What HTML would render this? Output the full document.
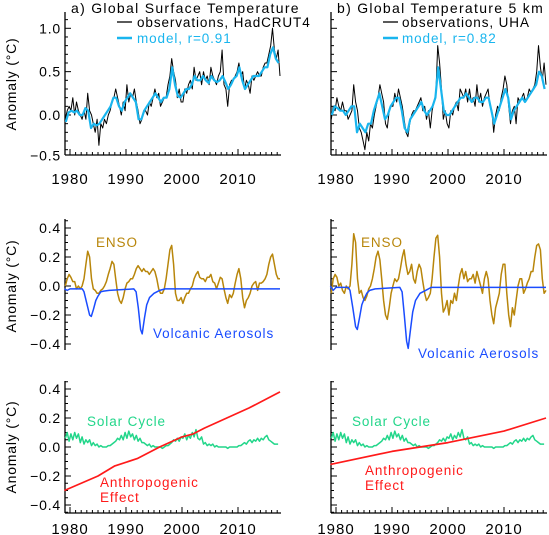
<!DOCTYPE html>
<html><head><meta charset="utf-8"><style>
html,body{margin:0;padding:0;background:#fff}
svg{display:block;font-family:"Liberation Sans","DejaVu Sans",sans-serif}
</style></head><body>
<svg id="fig" width="549" height="535" viewBox="0 0 549 535"></svg>
<script>
// ---------- data ----------
const hadcrutObs = [-0.05,0.05,0.1, 0.05,0.2,0.0, 0.15,0.05,0.0, -0.05,0.05,-0.05, 0.25,0.05,0.0, -0.1,-0.2,-0.05, -0.35,-0.1,-0.15, -0.05,-0.1,0.0, 0.05,0.15,0.2, 0.3,0.2,0.1, 0.0,0.15,0.05, 0.35,0.15,0.25, 0.2,0.3,0.15, 0.05,-0.1,-0.05, 0.05,0.05,0.0, 0.15,0.1,0.2, 0.3,0.2,0.25, 0.1,0.15,0.2, 0.2,0.35,0.45, 0.65,0.5,0.4, 0.2,0.3,0.15, 0.15,0.3,0.25, 0.35,0.4,0.3, 0.55,0.4,0.45, 0.5,0.35,0.5, 0.4,0.45,0.35, 0.55,0.45,0.4, 0.35,0.45,0.5, 0.75,0.35,0.3, 0.1,0.35,0.4, 0.4,0.45,0.5, 0.6,0.45,0.5, 0.3,0.4,0.35, 0.25,0.45,0.4, 0.45,0.5,0.45, 0.45,0.55,0.6, 0.6,0.7,0.8, 1.0,0.75,0.65, 0.75,0.45];
const hadcrutModel = [-0.08,0.03, 0.05,0.03, 0.05,0.0, 0.0,0.08, 0.05,-0.15, -0.1,-0.12, -0.1,-0.05, 0.0,0.05, 0.1,0.2, 0.2,0.1, 0.05,0.15, 0.2,0.25, 0.2,0.15, -0.05,-0.05, 0.05,0.1, 0.15,0.2, 0.25,0.2, 0.15,0.2, 0.2,0.3, 0.55,0.35, 0.22,0.2, 0.25,0.3, 0.3,0.35, 0.45,0.4, 0.4,0.45, 0.4,0.37, 0.45,0.4, 0.38,0.4, 0.45,0.38, 0.3,0.35, 0.42,0.45, 0.55,0.4, 0.3,0.35, 0.4,0.45, 0.45,0.45, 0.5,0.55, 0.55,0.7, 0.78,0.65, 0.6];
const uhaObs = [-0.05,0.1,0.05, 0.2,0.1,0.05, 0.15,0.05,0.05, -0.05,0.0,0.05, 0.35,0.15,0.05, -0.15,-0.2,-0.3, -0.4,-0.2,-0.3, -0.1,-0.15,0.0, 0.1,0.2,0.35, 0.25,0.15,-0.1, -0.15,0.05,0.1, 0.1,0.25,0.15, 0.3,0.2,0.1, -0.05,-0.2,-0.25, -0.1,0.0,0.05, 0.05,0.1,0.15, 0.2,0.05,0.1, -0.05,0.05,-0.15, 0.05,0.15,0.25, 0.8,0.6,0.3, -0.05,0.05,-0.1, -0.15,0.05,0.0, 0.1,0.15,0.05, 0.3,0.25,0.2, 0.3,0.15,0.3, 0.15,0.2,0.1, 0.35,0.15,0.25, 0.1,0.2,0.25, 0.3,0.1,0.05, -0.2,0.0,0.1, 0.05,0.2,0.3, 0.45,0.35,0.1, -0.1,0.05,0.1, -0.1,0.2,0.15, 0.2,0.25,0.15, 0.2,0.3,0.25, 0.3,0.35,0.5, 0.8,0.55,0.4, 0.6,0.35];
const uhaModel = [0.0,0.1, 0.08,0.05, 0.05,0.0, 0.05,0.1, 0.1,-0.2, -0.1,-0.15, -0.2,-0.1, -0.1,0.05, 0.15,0.25, 0.1,-0.05, 0.0,0.1, 0.15,0.2, 0.2,0.05, -0.15,-0.2, -0.05,0.0, 0.05,0.1, 0.15,0.05, 0.0,0.05, 0.1,0.2, 0.55,0.3, 0.05,0.0, 0.0,0.05, 0.1,0.15, 0.2,0.2, 0.25,0.2, 0.15,0.2, 0.2,0.15, 0.15,0.2, 0.2,0.05, -0.1,0.0, 0.1,0.2, 0.3,0.2, -0.05,0.05, 0.1,0.15, 0.2,0.15, 0.2,0.25, 0.3,0.35, 0.5,0.45, 0.3];
const ensoLeft = [0.0,0.05,0.08, 0.06,0.03,0.03, -0.02,0.0,-0.02, 0.0,0.05,0.15, 0.24,0.2,0.05, -0.02,-0.03,-0.05, -0.05,-0.03,-0.02, 0.0,0.03,0.08, 0.12,0.17,0.15, 0.05,-0.05,-0.1, -0.12,-0.08,-0.02, 0.02,0.03,0.05, 0.05,0.08,0.12, 0.14,0.12,0.1, 0.12,0.1,0.1, 0.08,0.1,0.12, 0.1,0.05,-0.02, -0.05,-0.05,-0.02, 0.05,0.15,0.25, 0.28,0.15,-0.05, -0.1,-0.1,-0.08, -0.12,-0.08,-0.05, -0.05,-0.02,0.0, 0.05,0.08,0.1, 0.06,0.05,0.05, 0.03,0.06,0.06, 0.08,0.03,0.02, -0.02,0.02,0.06, 0.05,-0.02,-0.08, -0.12,-0.06,-0.08, -0.05,0.02,0.08, 0.12,0.05,-0.08, -0.15,-0.1,-0.08, -0.05,0.0,0.02, 0.03,-0.03,0.02, 0.02,0.03,0.05, 0.08,0.15,0.2, 0.22,0.15,0.08, 0.05,0.05];
const ensoRight = [-0.05,0.05,0.08, 0.06,0.0,0.02, -0.03,-0.05,0.0, -0.02,0.0,0.15, 0.36,0.3,0.05, -0.05,-0.03,-0.08, -0.1,-0.07,-0.02, 0.0,0.05,0.12, 0.2,0.24,0.18, 0.05,-0.1,-0.2, -0.23,-0.15,-0.05, 0.0,0.05,0.03, 0.05,0.12,0.2, 0.25,0.15,0.08, 0.1,0.15,0.05, 0.02,0.1,0.15, 0.12,0.03,-0.05, -0.1,-0.08,-0.05, 0.05,0.2,0.33, 0.35,0.2,-0.05, -0.18,-0.15,-0.1, -0.2,-0.1,-0.12, -0.05,-0.1,0.0, 0.08,0.12,0.05, 0.1,0.03,0.05, 0.05,0.08,0.02, 0.1,0.05,0.0, -0.05,0.05,0.1, 0.05,-0.1,-0.2, -0.26,-0.15,-0.1, -0.05,0.08,0.15, 0.15,-0.05,-0.2, -0.28,-0.15,-0.2, -0.1,0.0,0.05, 0.05,-0.05,-0.02, 0.02,0.05,0.1, 0.1,0.2,0.28, 0.29,0.25,0.05, -0.05,-0.03];
const volcYears = [1979,1979.5,1980,1982.2,1982.5,1983.0,1983.5,1983.8,1984.2,1984.6,1985.0,1985.5,1986.0,1987,1991.4,1991.8,1992.2,1992.6,1992.9,1993.3,1993.7,1994.2,1995,1996,1997,2017.5];
const volcLeft = [-0.02,-0.03,-0.02,-0.02,-0.04,-0.12,-0.2,-0.21,-0.16,-0.1,-0.07,-0.04,-0.035,-0.03,-0.02,-0.04,-0.15,-0.3,-0.33,-0.22,-0.13,-0.08,-0.05,-0.03,-0.02,-0.02];
const volcRight = [0.0,-0.03,-0.01,-0.01,-0.03,-0.15,-0.28,-0.3,-0.22,-0.13,-0.09,-0.05,-0.03,-0.02,-0.01,-0.04,-0.2,-0.38,-0.43,-0.3,-0.18,-0.1,-0.05,-0.03,-0.01,-0.01];
const solar = [0.06,0.1,0.04, 0.09,0.05,0.1, 0.06,0.09,0.03, 0.07,0.02,0.05, 0.03,0.05,0.01, 0.03,0.01,0.02, 0.0,0.01,0.0, 0.0,0.0,0.01, 0.01,0.02,0.03, 0.04,0.06,0.05, 0.08,0.05,0.1, 0.06,0.11,0.07, 0.09,0.05,0.08, 0.04,0.06,0.03, 0.03,0.02,0.01, 0.02,0.0,0.01, 0.0,0.0,0.0, 0.0,-0.01,0.0, 0.01,0.01,0.02, 0.03,0.05,0.04, 0.06,0.04,0.07, 0.06,0.09,0.05, 0.08,0.06,0.1, 0.07,0.12,0.06, 0.05,0.07,0.02, 0.03,0.01,0.02, 0.01,0.02,0.0, 0.01,0.0,0.0, 0.0,0.0,0.0, -0.01,0.0,0.0, 0.0,0.0,0.0, 0.01,0.01,0.02, 0.03,0.02,0.04, 0.05,0.03,0.05, 0.04,0.06,0.04, 0.06,0.05,0.07, 0.08,0.05,0.04, 0.03,0.02,0.02, 0.02];
const anthroYearsL = [1979,1985,1988,1992,1996,2000,2002,2004,2008,2012,2017.5];
const anthroLeft = [-0.3,-0.2,-0.13,-0.08,0.0,0.07,0.09,0.13,0.2,0.27,0.38];
const anthroYearsR = [1979,1990,2000,2010,2017.5];
const anthroRight = [-0.12,-0.03,0.03,0.11,0.2];
const xTickYears = [1980,1990,2000,2010];

// ---------- drawing ----------
const NS="http://www.w3.org/2000/svg";
const svg=document.getElementById('fig');
function el(tag,attrs,parent){const e=document.createElementNS(NS,tag);for(const k in attrs)e.setAttribute(k,attrs[k]);(parent||svg).appendChild(e);return e;}
function txt(s,attrs,parent){const e=el('text',attrs,parent);e.textContent=s;return e;}

const panels={
  top:{y0:115,k:86.7,top:12,bot:155,major:[1.0,0.5,0.0,-0.5],minorStep:0.1,vmin:-0.45,vmax:1.18,xaxis:true,labY:184},
  mid:{y0:286,k:145,top:219,bot:350,major:[0.4,0.2,0.0,-0.2,-0.4],minorStep:0.05,vmin:-0.44,vmax:0.46,xaxis:false},
  bot:{y0:447,k:145,top:381,bot:513,major:[0.4,0.2,0.0,-0.2,-0.4],minorStep:0.05,vmin:-0.45,vmax:0.45,xaxis:true,labY:534}
};
function xs(ax,yr){return ax+5+(yr-1980)*5.6;}
function ys(p,v){return p.y0-p.k*v;}

function drawAxes(ax,p,name,showLabels){
  const g=el('g',{});
  
  
  el('line',{x1:ax,y1:p.top,x2:ax,y2:p.bot,stroke:'#000','stroke-width':1.3},g);
  for(let v=Math.ceil(p.vmin/p.minorStep)*p.minorStep;v<=p.vmax+1e-9;v+=p.minorStep){
    const isMaj=p.major.some(m=>Math.abs(m-v)<1e-6);
    const y=ys(p,v);
    el('line',{x1:ax,y1:y,x2:ax+(isMaj?6:3),y2:y,stroke:'#000','stroke-width':1},g);
  }
  if(showLabels){
    p.major.forEach(m=>{
      let y=ys(p,m)+5; if(m===-0.5) y-=3;
      const t=txt((m<0?'\u2212':'')+Math.abs(m).toFixed(1),{x:ax-4,y:y,'text-anchor':'end','font-size':14,'letter-spacing':0.8,fill:'#000'},g);
      
      
    });
  }
  if(p.xaxis){
    const xr=ax+216;
    el('line',{x1:ax,y1:p.bot,x2:xr,y2:p.bot,stroke:'#000','stroke-width':1.3},g);
    for(let yr=1980;yr<=2018;yr++){
      const x=xs(ax,yr);if(x>xr)break;
      el('line',{x1:x,y1:p.bot,x2:x,y2:p.bot-(yr%10===0?6:3),stroke:'#000','stroke-width':1},g);
    }
    xTickYears.forEach(yr=>{
      const t=txt(String(yr),{x:xs(ax,yr),y:p.labY,'text-anchor':'middle','font-size':15,'letter-spacing':1,fill:'#000'},g);
      
      
    });
  }
}
function seriesPath(ax,p,vals,start,per,color,w,name){
  const pts=vals.map((v,i)=>[xs(ax,start+i/per+0.5/per),ys(p,v)]);
  const e=el('polyline',{points:pts.map(q=>q[0].toFixed(1)+','+q[1].toFixed(1)).join(' '),fill:'none',stroke:color,'stroke-width':w,'stroke-linejoin':'round'});
  
  
}
function xyPath(ax,p,years,vals,color,w,name){
  const pts=vals.map((v,i)=>[xs(ax,years[i]),ys(p,v)]);
  const e=el('polyline',{points:pts.map(q=>q[0].toFixed(1)+','+q[1].toFixed(1)).join(' '),fill:'none',stroke:color,'stroke-width':w,'stroke-linejoin':'round'});
  
  
}
function label(s,x,y,color,name,size,ls){
  const t=txt(s,{x:x,y:y,'font-size':size||13.5,'letter-spacing':ls===undefined?0.9:ls,fill:color});
  
  
}

const CYAN='#19b5ee', GOLD='#b8860b', BLUE='#1a4cff', GREEN='#22d68a', RED='#ff1a1a';
[[65,'left'],[331,'right']].forEach(([ax,side])=>{
  const L=side==='left';
  drawAxes(ax,panels.top,side+'-top',L);
  drawAxes(ax,panels.mid,side+'-middle',L);
  drawAxes(ax,panels.bot,side+'-bottom',L);
  seriesPath(ax,panels.top,L?hadcrutObs:uhaObs,1979,3,'#000',1,side+'-observations-line');
  seriesPath(ax,panels.top,L?hadcrutModel:uhaModel,1979,2,CYAN,2.2,side+'-model-line');
  seriesPath(ax,panels.mid,L?ensoLeft:ensoRight,1979,3,GOLD,1.5,side+'-enso-line');
  xyPath(ax,panels.mid,volcYears,L?volcLeft:volcRight,BLUE,1.5,side+'-volcanic-line');
  seriesPath(ax,panels.bot,solar,1979,3,GREEN,1.5,side+'-solar-line');
  if(L) xyPath(ax,panels.bot,anthroYearsL,anthroLeft,RED,1.7,side+'-anthropogenic-line');
  else xyPath(ax,panels.bot,anthroYearsR,anthroRight,RED,1.7,side+'-anthropogenic-line');
});

// titles & legends
label('a) Global Surface Temperature',71,13,'#000','left-panel-title',14,1.3);
label('b) Global Temperature 5 km',337,13,'#000','right-panel-title',14,1.3);
el('line',{x1:117,y1:22,x2:132,y2:22,stroke:'#000','stroke-width':1.3});
label('observations, HadCRUT4',137,27,'#000','legend-observations-hadcrut4');
el('line',{x1:117,y1:38,x2:132,y2:38,stroke:CYAN,'stroke-width':2.5});
label('model, r=0.91',137,43,CYAN,'legend-model-left');
el('line',{x1:383,y1:22,x2:398,y2:22,stroke:'#000','stroke-width':1.3});
label('observations, UHA',402,27,'#000','legend-observations-uha');
el('line',{x1:383,y1:38,x2:398,y2:38,stroke:CYAN,'stroke-width':2.5});
label('model, r=0.82',402,43,CYAN,'legend-model-right');

label('ENSO',96,247,GOLD,'left-enso-label');
label('Volcanic Aerosols',153,338,BLUE,'left-volcanic-label');
label('ENSO',361,247,GOLD,'right-enso-label');
label('Volcanic Aerosols',418,358,BLUE,'right-volcanic-label');
label('Solar Cycle',87,426,GREEN,'left-solar-label');
label('Solar Cycle',352,426,GREEN,'right-solar-label');
label('Anthropogenic',100,487,RED,'left-anthropogenic-label');
label('Effect',100,502,RED,'left-effect-label');
label('Anthropogenic',365,475,RED,'right-anthropogenic-label');
label('Effect',365,490,RED,'right-effect-label');

[84,286,447].forEach((cy,i)=>{
  const t=txt('Anomaly (\u00B0C)',{x:0,y:0,transform:'translate(16,'+cy+') rotate(-90)','text-anchor':'middle','font-size':14,'letter-spacing':0.8,fill:'#000'});
  
  
});
</script>
</body></html>
